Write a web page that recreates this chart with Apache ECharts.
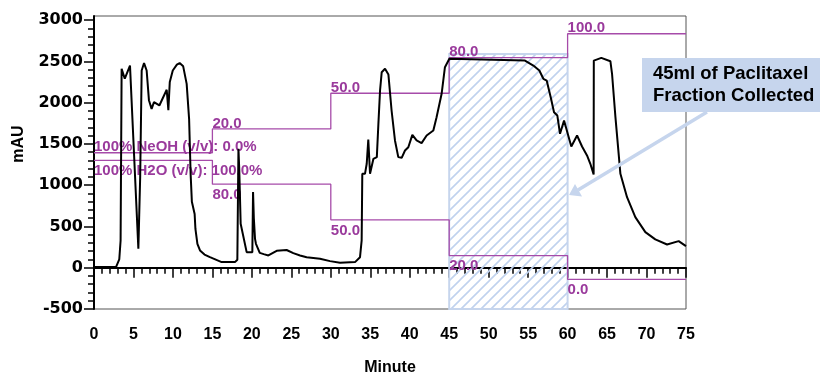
<!DOCTYPE html>
<html>
<head>
<meta charset="utf-8">
<script src="https://cdn.jsdelivr.net/npm/echarts@6.0.0/dist/echarts.min.js"></script>
<style>
html,body{margin:0;padding:0;background:#fff;}
#chart{width:820px;height:373px;}
</style>
</head>
<body>
<div id="chart"></div>
<script>
// ---- data ----
const minutes = [0,2.8,3.2,3.37,3.5,3.9,4.56,5.62,5.72,5.85,6.04,6.34,6.67,6.96,7.3,7.6,8.28,8.87,9.21,9.4,9.42,9.6,9.98,10.5,10.85,11.3,11.74,12.05,12.24,12.4,12.75,12.85,13.1,13.43,14.0,14.69,16.17,17.86,18.16,18.3,18.4,18.58,19.34,20.06,20.15,20.25,20.4,20.52,21.0,21.5,22.09,23.14,24.4,25.25,26.1,26.94,28.63,29.9,31.17,33.07,33.7,33.91,33.99,34.33,34.55,34.75,34.97,35.4,35.6,35.83,36.03,36.24,36.45,36.87,37.3,37.7,38.13,38.55,38.98,39.4,39.82,40.33,40.87,41.5,42.14,42.99,43.4,44.04,44.46,45.02,54.6,55.66,56.42,56.93,57.35,57.86,58.28,58.7,59.04,59.55,60.47,61.2,61.83,62.46,62.88,63.3,63.32,64.27,65.42,65.63,66.06,66.69,67.53,68.58,69.85,71.11,72.6,74.07,75];
const mAU = [10,10,100,330,2410,2290,2450,230,230,1100,2390,2480,2390,2030,1925,2006,1966,2087,2156,2175,1910,2250,2390,2460,2480,2440,2228,1800,1138,800,650,470,290,210,160,128,68,68,97,1440,1200,533,189,189,916,600,350,290,180,165,149,205,215,177,149,128,109,80,60,68,128,331,1138,1138,1260,1554,1138,1320,1300,1340,1744,2147,2369,2410,2340,1905,1542,1340,1332,1420,1460,1610,1542,1510,1602,1663,1824,2107,2430,2531,2510,2450,2390,2289,2268,2066,1884,1844,1623,1784,1469,1602,1469,1360,1259,1130,2510,2543,2502,2350,1824,1138,855,613,431,343,282,322,262];

// gradient program (step lines)
const gradTimes = [0,15,30,45,60,75];
const meohPct = [0,20,50,80,100,100];
const h2oPct = [100,80,50,20,0,0];
const meohLabels = ['100% NeOH (v/v): 0.0%','20.0','50.0','80.0','100.0',''];
const h2oLabels = ['100% H2O (v/v): 100.0%','80.0','50.0','20.0','0.0',''];

// axes
const yTicks = [-500,0,500,1000,1500,2000,2500,3000];
const yMinorTicks = [];
for (let i = 0; i < yTicks.length - 1; i++) {
  for (let k = 1; k < 5; k++) yMinorTicks.push(yTicks[i] + k * 100);
}
const fractionRange = [45,60];
const fractionTop = 2590;
const annotationText = '45ml of Paclitaxel\nFraction Collected';

// ---- chart ----
const chromatogram = minutes.map((t,i) => [t, mAU[i]]);
const meohData = gradTimes.map((t,i) => [t, meohPct[i]]);
const h2oData = gradTimes.map((t,i) => [t, h2oPct[i]]);

const hatch = document.createElement('canvas');
hatch.width = 10; hatch.height = 10;
const hg = hatch.getContext('2d');
hg.strokeStyle = '#c0d2ee';
hg.lineWidth = 1.6;
hg.beginPath();
hg.moveTo(0,10); hg.lineTo(10,0);
hg.moveTo(-1,1); hg.lineTo(1,-1);
hg.moveTo(9,11); hg.lineTo(11,9);
hg.stroke();

const purpleLine = '#a64ba9';
const purpleText = '#9a3a9c';
const blue = '#c6d5ed';
const labelFont = {fontFamily:'Liberation Sans', fontWeight:'bold', fontSize:15, color:purpleText};

const chart = echarts.init(document.getElementById('chart'), null, {renderer:'canvas'});
chart.setOption({
  animation: false,
  grid: {left:94, right:134, top:16, bottom:64, show:true, borderColor:'#555', borderWidth:1,
         containLabel:false, outerBoundsMode:'none'},
  xAxis: {
    type:'value', min:0, max:75, interval:5,
    axisLine:{lineStyle:{color:'#000', width:2}},
    axisTick:{length:10, lineStyle:{color:'#000', width:1.5}},
    minorTick:{show:true, splitNumber:5, length:6, lineStyle:{color:'#000', width:1.5}},
    splitLine:{show:false}, minorSplitLine:{show:false},
    axisLabel:{fontFamily:'Liberation Sans', fontWeight:'bold', fontSize:16, color:'#000', margin:18},
    name:'Minute', nameLocation:'middle', nameGap:51,
    nameTextStyle:{fontFamily:'Liberation Sans', fontWeight:'bold', fontSize:16, color:'#000'}
  },
  yAxis: [
    {
      type:'value', min:-500, max:3050, interval:500,
      axisLine:{show:true, lineStyle:{color:'#000', width:2}},
      axisTick:{show:true, length:10, customValues:yTicks, lineStyle:{color:'#000', width:1.5}},
      axisLabel:{customValues:yTicks, formatter:v => String(v),
                 fontFamily:'DejaVu Sans', fontWeight:'bold', fontSize:16, color:'#000', margin:11},
      splitLine:{show:false}
    },
    {type:'value', show:false, min:-131.3, max:114.9},
    {type:'value', show:false, min:-24.9, max:221.3},
    {
      type:'value', position:'left', min:-500, max:3050,
      axisLine:{show:false},
      axisTick:{show:true, length:6, customValues:yMinorTicks, lineStyle:{color:'#000', width:1.5}},
      axisLabel:{show:false},
      splitLine:{show:false}
    }
  ],
  series: [
    {
      type:'line', data:[], z:1, silent:true,
      markArea:{
        silent:true,
        itemStyle:{color:{image:hatch, repeat:'repeat'}, borderColor:blue, borderWidth:2},
        data:[[{xAxis:fractionRange[0], yAxis:-500},{xAxis:fractionRange[1], yAxis:fractionTop}]]
      }
    },
    {
      type:'line', yAxisIndex:1, step:'end', data:meohData, z:2,
      symbol:'circle', symbolSize:2, itemStyle:{color:'rgba(0,0,0,0)'},
      lineStyle:{color:purpleLine, width:1.3},
      label:Object.assign({show:true, position:[0,0], align:'left', verticalAlign:'bottom', offset:[1,3],
        formatter:p => meohLabels[p.dataIndex]}, labelFont)
    },
    {
      type:'line', yAxisIndex:2, step:'end', data:h2oData, z:2,
      symbol:'circle', symbolSize:2, itemStyle:{color:'rgba(0,0,0,0)'},
      lineStyle:{color:purpleLine, width:1.3},
      label:Object.assign({show:true, position:[0,0], align:'left', verticalAlign:'top', offset:[1,4],
        formatter:p => h2oLabels[p.dataIndex]}, labelFont)
    },
    {
      type:'line', data:chromatogram, z:3, showSymbol:false, symbol:'none',
      lineStyle:{color:'#000', width:2}
    }
  ],
  graphic: [
    {type:'text', x:19, y:144, rotation:Math.PI/2,
     style:{text:'mAU', x:0, y:0, align:'center', verticalAlign:'middle', fill:'#000',
            font:'bold 16px "Liberation Sans"'}},
    {type:'rect', shape:{x:642, y:58, width:180, height:54}, style:{fill:blue}, z:10},
    {type:'text', x:653, y:63, z:11,
     style:{text:annotationText, fill:'#000', font:'bold 18.5px "Liberation Sans"', lineHeight:22,
            align:'left', verticalAlign:'top'}},
    {type:'line', shape:{x1:707, y1:112, x2:578, y2:190}, style:{stroke:blue, lineWidth:3.5}, z:10},
    {type:'polygon', shape:{points:[[569,195],[575,184],[582,196.5]]}, style:{fill:blue}, z:10}
  ]
});
</script>
</body>
</html>
